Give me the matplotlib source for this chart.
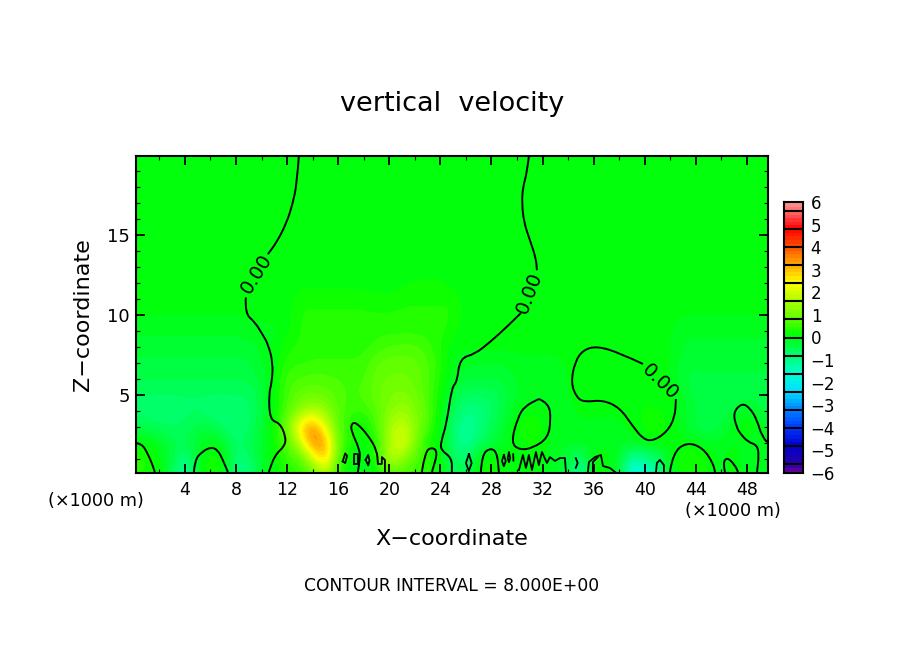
import numpy as np
import matplotlib
matplotlib.use("Agg")
import matplotlib.pyplot as plt
from matplotlib.colors import LinearSegmentedColormap, BoundaryNorm
from matplotlib.patches import PathPatch
from matplotlib.path import Path

# w field: one row per km of height, one value per km of x (0..50)
w_z0 = [.3,.3,.1,-.5,-1.5,-.1,.4,.1,-1.1,-.9, -.2,.1,.3,.4,.7,1.5,.4,0,-.1,.1, .5,.6,.5,.3,.1,-.5,-.6,.1,.3,0,
        0,.05,0,-.1,-.4,-1.6,.2,.1,-.3,-2, -1.8,-1.3,-.1,.2,.3,.1,-.1,.1,-.2,-.1, 0]
w_z1 = [.4,.4,.1,-.4,-1.0,-.2,.3,.2,-.8,-.8, -.2,.15,.5,.7,1.8,3.2,.7,.05,-.05,.3, 2,1.3,.7,.5,.1,-.6,-.8,.1,.3,.05,
        .05,.1,.05,-.1,-.3,-.9,.2,.1,-.1,-1.4, -1,-.8,0,.3,.4,.2,-.1,.2,-.2,-.1, 0]
w_z2 = [.1,.1,-.1,-.4,-.5,-.2,.1,-.2,-.7,-.5, -.2,.2,.7,1.8,3.6,3.4,.9,.3,.05,.4, 1.5,2.3,1.2,.2,.1,-.8,-1.2,-.7,-.4,-.1,
        .1,.2,.1,-.1,-.1,-.1,-.1,-.1,-.1,-.05, 0,.1,.1,.1,.05,-.1,-.1,0,-.1,-.1, .1]
w_z3 = [-.4,-.5,-.6,-.65,-.6,-.4,-.4,-.7,-.85,-.7, -.3,.3,1,2.8,3.6,2.2,.8,.3,.1,.6, 1.6,2,1.3,.7,0,-.8,-1.2,-.9,-.5,-.2,
        .2,.4,.2,-.1,-.1,0,-.05,-.05,-.05,.05, .2,.3,.1,-.1,-.4,-.5,-.3,0,.2,0, -.3]
w_z4 = [-.7,-.8,-.8,-.8,-.7,-.65,-.8,-.85,-.8,-.7, -.4,.1,.7,1.3,1.7,1.4,.8,.5,.5,.8, 1.2,1.5,1.2,.8,.1,-.6,-1.0,-1.0,-.7,-.35,
        0,.1,.1,-.05,-.05,.03,.03,.03,.05,.1, .2,.2,.1,-.1,-.3,-.45,-.45,-.3,0,-.3, -.45]
w_z5 = [-.65]*10 + [-.35,.15] + [.6,.9,1.0,.9,.7,.6,.7] + [.9,1.1,1.2,1.0,.7] + [.2,-.35] + [-.6]*3 + [-.4] + [-.15]*4 \
    + [.03,.03,.05,.05,.1,.1,.1,.05,.03] + [-.1] + [-.45]*7
w_z6 = [-.45]*10 + [-.25,.1] + [.6,.65,.7,.7,.65] + [.6,.6] + [.9,1.0,1.0,.95,.7] + [.3,-.15] + [-.3]*4 + [-.12]*4 \
    + [.03]*9 + [-.35]*8
w_z7 = [-.35]*10 + [-.15,.05] + [.4,.45,.5,.5,.5] + [.5,.55] + [.8,.9,.9,.85,.7] + [.4] + [-.05] + [-.14]*4 + [-.05]*4 \
    + [.04]*9 + [-.28]*8
w_z8 = [-.25]*10 + [-.1,.02] + [.3,.35,.4,.4] + [.4]*3 + [.55,.65,.7,.7,.55] + [.3] + [.05]*18 + [-.2]*8
w_z9 = [-.12]*9 + [-.05]*3 + [.1] + [.35]*6 + [.42]*6 + [.2] + [.05]*12 + [.03]*5 + [-.12]*8
w_z10 = [.02]*10 + [.05]*3 + [.35]*13 + [.05]*17 + [.02]*8
w_z11 = [.05]*13 + [.28]*6 + [.2]*2 + [.3]*5 + [.05]*25
w_z12 = [.08]*22 + [.2]*3 + [.08]*26
w_top = [.05]*51

# zero contour (x in km, z in km)
c_left_top = ([12.92,12.76,12.45,11.98,11.2,10.49], [19.94,18.2,17.0,15.8,14.56,13.8])
c_left_low = ([8.77,8.69,9.48,10.1,10.5,10.9,10.8,10.57,10.65,11.43,11.9,11.82,11.04,10.57],
              [11.1,10.1,9.56,8.75,8.2,7.0,5.75,5.1,3.44,3.25,2.4,1.81,1.25,0.19])
c_mid_top = ([30.93,30.78,30.46,30.38,30.54,31.0,31.48,31.56], [19.94,18.9,18.0,17.0,15.8,14.7,13.56,12.8])
c_mid_low = ([30.3,29.2,27.88,26.7,25.53,25.3,24.9,24.5,24.04,24.04,24.9,24.9],
             [10.12,9.25,8.3,7.56,7.3,5.8,5.5,3.25,2.06,1.56,1.06,0.19])
c_loop_40 = ([39.86,38.06,36.26,35.16,34.53,34.22,34.69,35.32,36.73,38.06,39.0,39.86,40.64,41.74,42.37,42.44],
             [6.94,7.62,8.06,7.81,7.06,5.75,4.81,4.56,4.69,4.19,3.12,2.25,2.12,2.69,3.62,4.75])
c_loop_31 = ([31.71,32.5,32.65,32.42,31.24,30.23,29.52,30.07,30.62,31.71],
             [4.75,4.5,3.44,2.31,1.69,1.56,2.0,3.62,4.31,4.75])
c_loop_48 = ([49.57,49.18,48.79,48.24,47.6,46.9,47.22,47.45,48.08,48.79,48.94,48.79],
             [2.06,2.38,3.44,4.19,4.5,3.88,2.94,2.62,2.06,1.88,1.25,0.19])
c_humps = [
    ([0.17,0.63,1.02,1.41,1.64], [2.0,1.94,1.44,0.75,0.19]),
    ([4.7,4.78,5.32,6.03,6.58,6.97,7.36], [0.19,0.94,1.44,1.75,1.56,0.94,0.19]),
    ([17.54,17.7,17.7,16.99,17.07,17.46,18.32,19.03,19.11], [0.19,0.94,1.56,2.81,3.25,3.25,2.5,1.56,0.69]),
    ([22.55,22.79,23.34,23.8,23.34], [0.19,1.44,1.75,1.44,0.19]),
    ([27.17,27.25,27.88,28.43,28.58], [0.19,1.25,1.69,1.44,0.19]),
    ([41.97,42.2,43.3,44.56,45.34,45.5], [0.19,1.38,2.06,1.69,0.75,0.19]),
    ([46.28,46.12,46.44,47.06,47.3], [0.19,0.75,1.12,0.62,0.19]),
]
c_small = [
    ([19.11,19.42,19.42,19.66,19.66], [0.69,0.69,1.12,0.94,0.19]),
    ([16.35,16.55,16.7,16.55,16.35], [0.85,0.75,1.2,1.35,0.85]),
    ([17.2,17.55,17.55,17.2,17.2], [0.7,0.7,1.3,1.3,0.7]),
    ([18.15,18.35,18.45,18.35,18.15], [0.95,0.6,0.9,1.25,0.95]),
    ([26.23,26.45,26.23,26.0,26.23], [1.3,0.75,0.25,0.75,1.3]),
    ([28.97,29.12,28.97,28.82,28.97], [1.25,0.88,0.55,0.88,1.25]),
    ([29.37,29.47,29.37,29.27,29.37], [1.4,1.06,0.8,1.06,1.4]),
    ([29.7,29.72], [1.3,0.9]),
    ([30.15,30.46,30.7,30.93,31.17,31.48,31.71,31.95,32.34,32.58,32.97,33.36,33.75,33.83],
     [0.31,1.25,0.44,1.25,0.31,1.44,0.62,1.44,0.75,1.12,0.88,1.06,1.06,0.19]),
    ([34.6,34.75,34.6], [1.05,0.75,0.45]),
    ([35.55,35.63,36.1,36.57,36.73,37.27,37.67], [0.19,0.81,1.12,1.25,0.56,0.44,0.19]),
    ([35.94,35.94,36.33], [0.19,0.81,1.12]),
    ([40.88,40.95,41.19,41.5,41.5], [0.19,0.75,0.94,0.62,0.19]),
]

# colour per value
cmap_values = [-6,-5.6,-4.8,-4,-3.2,-2.4,-1.6,-0.8,0,0.16,0.8,1.6,2.4,3.2,4,4.8,5.6,6]
cmap_colors = ["#6e00a0","#2800aa","#0000c8","#0038ff","#0082ff","#00e0ff","#00ffd0","#00ff70","#00ff14",
               "#06ff00","#5cff00","#aaff00","#ffff00","#ffaa00","#ff5000","#ff0000","#ff6e6e","#ff9a9a"]
bar_ticks = [-6,-5,-4,-3,-2,-1,0,1,2,3,4,5,6]
bar_edges = [-6,-5.6,-4.8,-4,-3.2,-2.4,-1.6,-0.8,0,0.8,1.6,2.4,3.2,4,4.8,5.6,6]


def smooth_line(ax, xs, zs):
    # read points act as quadratic control points, so the trace does not look faceted
    pts = list(zip(xs, zs))
    verts = [pts[0]]
    codes = [Path.MOVETO]
    for i in range(1, len(pts) - 1):
        mid = ((pts[i][0] + pts[i + 1][0]) / 2, (pts[i][1] + pts[i + 1][1]) / 2)
        verts += [pts[i], mid]
        codes += [Path.CURVE3, Path.CURVE3]
    verts.append(pts[-1])
    codes.append(Path.LINETO)
    ax.add_patch(PathPatch(Path(verts, codes), fc='none', ec='k', lw=1.4))


plt.rcParams['font.family'] = ['DejaVu Sans']

W = np.array([w_z0,w_z1,w_z2,w_z3,w_z4,w_z5,w_z6,w_z7,w_z8,w_z9,w_z10,w_z11,w_z12] + [w_top]*8)

pos = [(v + 6) / 12 for v in cmap_values]
cmap = LinearSegmentedColormap.from_list("vel", list(zip(pos, cmap_colors)), N=512)
levels = np.concatenate(([-6], np.arange(-37, 38) * 0.16, [6]))
norm = BoundaryNorm(levels, 512)

W_PX, H_PX = 904, 654
fig = plt.figure(figsize=(W_PX / 100, H_PX / 100), dpi=100)
ax = fig.add_axes([136 / W_PX, 1 - 473 / H_PX, 632 / W_PX, 317 / H_PX])

ax.imshow(W, origin='lower', extent=(-0.5, 50.5, -0.5, 20.5), aspect='auto', cmap=cmap, norm=norm,
          interpolation='bicubic')
for xs, zs in [c_left_top, c_left_low, c_mid_top, c_mid_low, c_loop_40, c_loop_31, c_loop_48] + c_humps:
    smooth_line(ax, xs, zs)
for xs, zs in c_small:
    ax.plot(xs, zs, color='k', lw=1.3)

ax.text(9.6, 12.6, "0.00", rotation=58, fontsize=14, ha='center', va='center')
ax.text(31.0, 11.4, "0.00", rotation=69, fontsize=14, ha='center', va='center')
ax.text(41.2, 5.8, "0.00", rotation=-44, fontsize=14, ha='center', va='center')

ax.set_xlim(0.17, 49.65)
ax.set_ylim(0.125, 19.94)
ax.set_xticks(range(4, 49, 4))
ax.set_xticks(range(2, 50, 2), minor=True)
ax.set_yticks([5, 10, 15])
ax.set_yticks(range(1, 20), minor=True)
ax.tick_params(which='major', direction='in', top=True, right=True, length=6.5, width=1.3, labelsize=12.5, pad=6)
ax.tick_params(which='minor', direction='in', top=True, right=True, length=3.2, width=0.8)
ax.tick_params(axis='y', which='major', pad=4.5, labelsize=13)
for s in ax.spines.values():
    s.set_linewidth(1.5)

fig.text(452 / W_PX, 1 - 104 / H_PX, "vertical  velocity", fontsize=19.5, ha='center', va='center')
fig.text(452 / W_PX, 1 - 539 / H_PX, "X\u2212coordinate", fontsize=16, ha='center', va='center')
fig.text(83 / W_PX, 1 - 315 / H_PX, "Z\u2212coordinate", fontsize=16, rotation=90, ha='center', va='center')
fig.text(452 / W_PX, 1 - 586 / H_PX, "CONTOUR INTERVAL = 8.000E+00", fontsize=12.3, ha='center', va='center')
fig.text(96 / W_PX, 1 - 501 / H_PX, "(\u00d71000 m)", fontsize=12.7, ha='center', va='center')
fig.text(733 / W_PX, 1 - 511 / H_PX, "(\u00d71000 m)", fontsize=12.7, ha='center', va='center')

# colour bar, separate axes so the uneven black separators can be placed by value
cax = fig.add_axes([784 / W_PX, 1 - 473 / H_PX, 19 / W_PX, 271 / H_PX])
cax.pcolormesh([0, 1], levels, (levels[:-1, None] + levels[1:, None]) / 2, cmap=cmap, norm=norm)
for v in bar_edges:
    cax.axhline(v, color='k', lw=1.5)
cax.set_xticks([])
cax.set_yticks(bar_ticks)
cax.set_yticklabels([str(v).replace('-', '\u2212') for v in bar_ticks])
cax.yaxis.tick_right()
cax.tick_params(axis='y', length=0, pad=5.5, labelsize=12)
cax.set_ylim(-6, 6)
for s in cax.spines.values():
    s.set_linewidth(1.5)

fig.savefig("out.png", dpi=100)
